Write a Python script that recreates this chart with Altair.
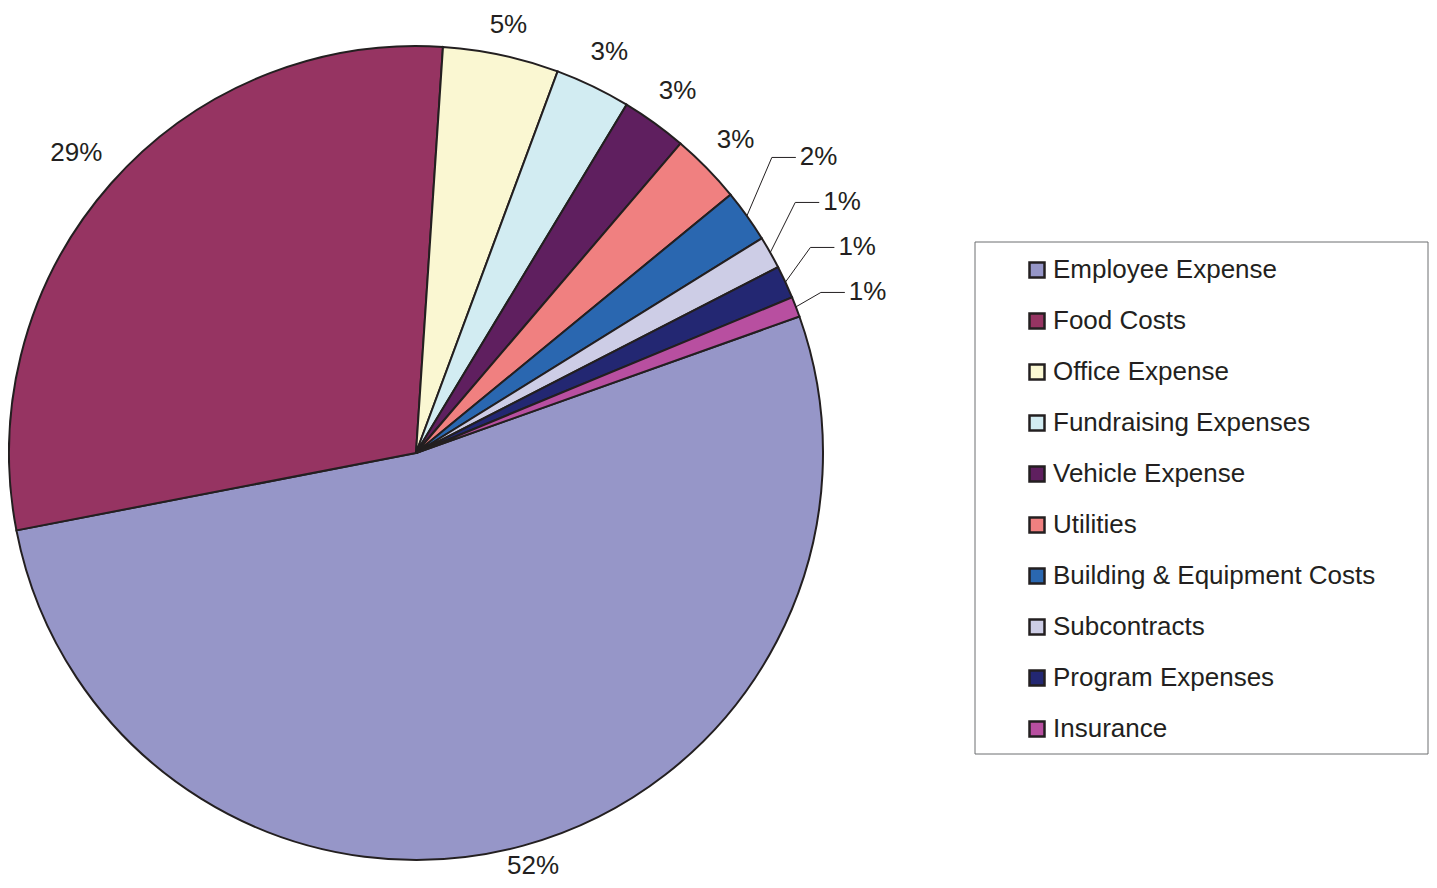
import math
import altair as alt
import pandas as pd

# ---------------- data ----------------
categories = [
    "Employee Expense",
    "Food Costs",
    "Office Expense",
    "Fundraising Expenses",
    "Vehicle Expense",
    "Utilities",
    "Building & Equipment Costs",
    "Subcontracts",
    "Program Expenses",
    "Insurance",
]
shares = [52.4, 29.1, 4.6, 3.0, 2.6, 2.8, 2.1, 1.3, 1.3, 0.8]
colors = [
    "#9696C8", "#963462", "#FAF7D2", "#D2ECF2", "#5F1F5F",
    "#F08080", "#2A67B0", "#CDCDE6", "#232772", "#B84FA0",
]

# ---------------- layout ----------------
W, H = 1421, 872          # whole svg (padding 0, autosize none)
CX, CY = 408, 445         # pie centre in plot pixels
R = 407                   # pie radius
START = math.radians(70.4)  # rotation of first slice (clockwise from 12 o'clock)
FONT = "Liberation Sans, Arial, Helvetica, sans-serif"
FS = 26
INK = "#231F20"
GAP = 18
STEP = 45                 # vertical spacing of stacked small labels
SMALL = 2.5               # slices below this get leader lines

total = sum(shares)
labels = [f"{math.floor(v + 0.5)}%" for v in shares]


def text_w(s):
    return sum(FS * (0.889 if c == "%" else 0.556) for c in s)


mids = []
acc = 0.0
for v in shares:
    mids.append(START + 2 * math.pi * (acc + v / 2) / total)
    acc += v

natural = {}
for i, (lab, th) in enumerate(zip(labels, mids)):
    r = R + GAP + (FS / 2) * abs(math.cos(th)) + text_w(lab) / 2 * abs(math.sin(th))
    natural[i] = (r * math.sin(th), r * math.cos(th))

y_floor = -(H - CY - FS / 2 - 1)
y_ceil = CY - FS / 2 - 4
plain_rows, lead_rows, line_rows = [], [], []
small = [i for i, v in enumerate(shares) if v < SMALL]
for i in range(len(categories)):
    if i not in small:
        x, y = natural[i]
        plain_rows.append({"category": categories[i], "label": labels[i],
                           "x": x, "y": min(max(y, y_floor), y_ceil)})

prev = None
for i in sorted(small, key=lambda k: natural[k][1]):
    y = natural[i][1]
    if prev is not None:
        y = max(y, prev + STEP)
    prev = y
    th = mids[i]
    sx, sy = R * math.sin(th), R * math.cos(th)
    ex = sx + 25
    line_rows += [
        {"category": categories[i], "pt": 0, "x": sx, "y": sy},
        {"category": categories[i], "pt": 1, "x": ex, "y": y},
        {"category": categories[i], "pt": 2, "x": ex + 24, "y": y},
    ]
    lead_rows.append({"category": categories[i], "label": labels[i], "x": ex + 28, "y": y})

pie_df = pd.DataFrame({"category": categories, "share": shares, "idx": list(range(len(categories)))})
plain_df = pd.DataFrame(plain_rows)
lead_df = pd.DataFrame(lead_rows)
line_df = pd.DataFrame(line_rows)

xscale = alt.Scale(domain=[-CX, W - CX], range=[0, W], nice=False, zero=False)
yscale = alt.Scale(domain=[-(H - CY), CY], range=[H, 0], nice=False, zero=False)

# ---------------- layers ----------------
box = alt.Chart(pd.DataFrame({"a": [0]})).mark_rect(
    fill="white", stroke="#6D6E71", strokeWidth=1
).encode(
    x=alt.value(967), x2=alt.value(1420), y=alt.value(234), y2=alt.value(746)
)

pie = alt.Chart(pie_df).mark_arc(outerRadius=R, stroke=INK, strokeWidth=2).encode(
    theta=alt.Theta("share:Q", stack=True,
                    scale=alt.Scale(range=[START, START + 2 * math.pi])),
    color=alt.Color(
        "category:N",
        scale=alt.Scale(domain=categories, range=colors),
        legend=alt.Legend(
            title=None, orient="none", legendX=1016, legendY=249,
            symbolType="square", symbolSize=225,
            symbolStrokeColor=INK, symbolStrokeWidth=2.5, symbolOpacity=1,
            labelFont=FONT, labelFontSize=FS, labelColor=INK,
            rowPadding=25, labelOffset=3, labelLimit=500, padding=0,
        ),
    ),
    order=alt.Order("idx:Q"),
    x=alt.value(CX), y=alt.value(CY),
)

lines = alt.Chart(line_df).mark_line(color=INK, strokeWidth=1).encode(
    x=alt.X("x:Q", scale=xscale, axis=None),
    y=alt.Y("y:Q", scale=yscale, axis=None),
    detail="category:N",
    order="pt:Q",
)

plain_text = alt.Chart(plain_df).mark_text(
    font=FONT, fontSize=FS, color=INK, align="center", baseline="middle"
).encode(
    x=alt.X("x:Q", scale=xscale, axis=None),
    y=alt.Y("y:Q", scale=yscale, axis=None),
    text="label:N",
)

lead_text = alt.Chart(lead_df).mark_text(
    font=FONT, fontSize=FS, color=INK, align="left", baseline="middle"
).encode(
    x=alt.X("x:Q", scale=xscale, axis=None),
    y=alt.Y("y:Q", scale=yscale, axis=None),
    text="label:N",
)

chart = alt.layer(box, pie, lines, plain_text, lead_text).properties(
    width=W, height=H, padding=0, autosize="none"
).configure_view(stroke=None)

chart.save("out.html", embed_options={"renderer": "svg", "actions": False})
